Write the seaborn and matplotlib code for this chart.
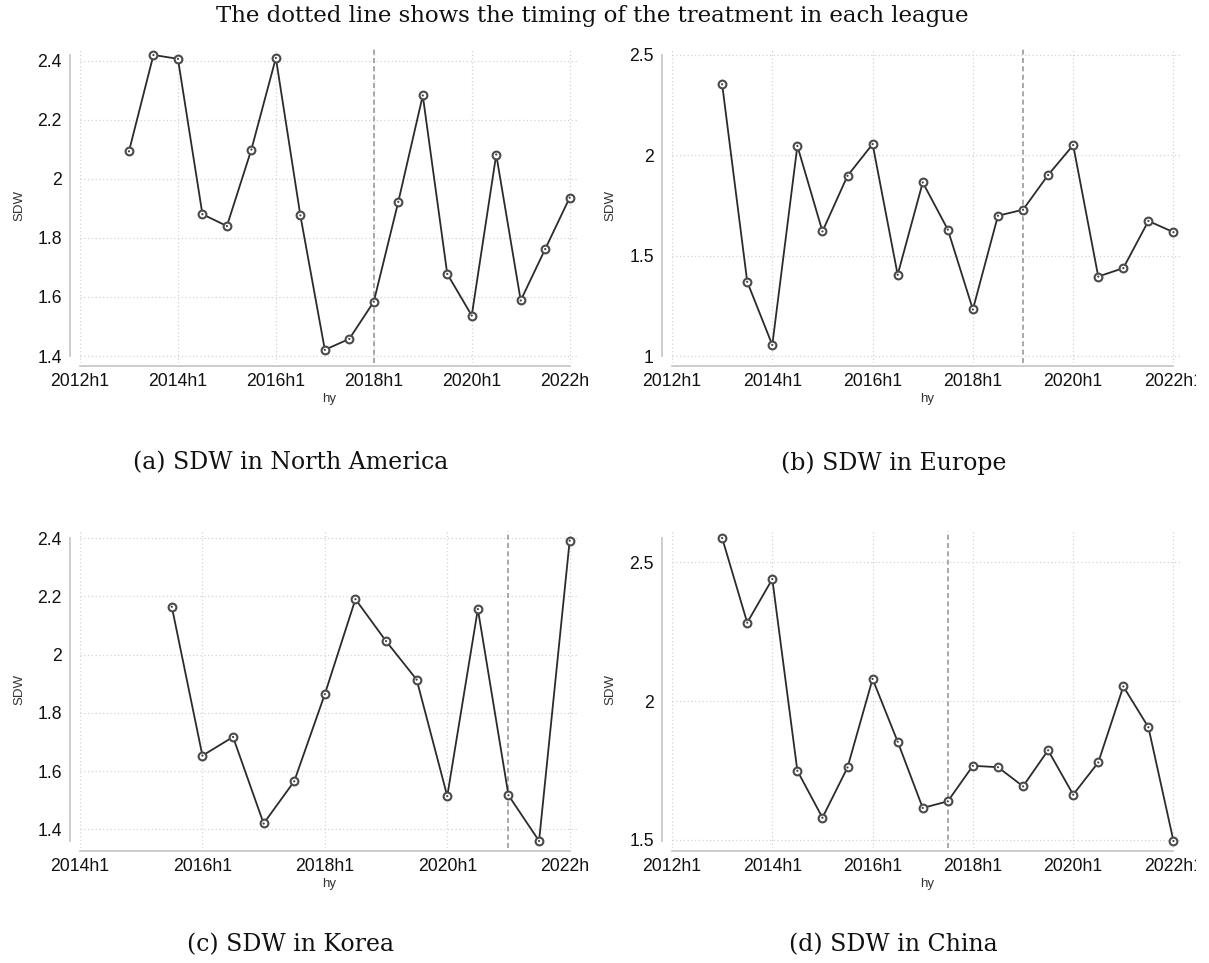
import matplotlib
matplotlib.use("Agg")
import matplotlib.pyplot as plt
from matplotlib.transforms import Bbox, TransformedBbox
import pandas as pd
import seaborn as sns

# half-year labels and SDW values
hy_long = ["2013h1", "2013h2", "2014h1", "2014h2", "2015h1", "2015h2", "2016h1",
           "2016h2", "2017h1", "2017h2", "2018h1", "2018h2", "2019h1", "2019h2",
           "2020h1", "2020h2", "2021h1", "2021h2", "2022h1"]
hy_korea = hy_long[5:]

sdw_na = [2.093, 2.419, 2.406, 1.880, 1.840, 2.099, 2.409, 1.876, 1.421, 1.458,
          1.584, 1.922, 2.282, 1.678, 1.537, 2.082, 1.588, 1.762, 1.936]
sdw_eu = [2.354, 1.370, 1.055, 2.047, 1.621, 1.898, 2.056, 1.405, 1.865, 1.630,
          1.232, 1.699, 1.729, 1.902, 2.051, 1.396, 1.438, 1.673, 1.617]
sdw_kr = [2.164, 1.653, 1.717, 1.420, 1.565, 1.864, 2.190, 2.046, 1.914, 1.514,
          2.156, 1.517, 1.360, 2.391]
sdw_cn = [2.588, 2.283, 2.440, 1.749, 1.580, 1.761, 2.080, 1.854, 1.615, 1.639,
          1.767, 1.762, 1.693, 1.823, 1.663, 1.779, 2.053, 1.906, 1.496]

treat_na, treat_eu, treat_kr, treat_cn = "2018h1", "2019h1", "2021h1", "2017h2"

xticks_long = ["2012h1", "2014h1", "2016h1", "2018h1", "2020h1", "2022h1"]
xticks_korea = ["2014h1", "2016h1", "2018h1", "2020h1", "2022h1"]
yticks_a = [1.4, 1.6, 1.8, 2.0, 2.2, 2.4]
yticks_b = [1.0, 1.5, 2.0, 2.5]
yticks_c = [1.4, 1.6, 1.8, 2.0, 2.2, 2.4]
yticks_d = [1.5, 2.0, 2.5]

captions = ["(a) SDW in North America", "(b) SDW in Europe",
            "(c) SDW in Korea", "(d) SDW in China"]


def hy_num(s):
    return int(s[:4]) + (0.5 if s.endswith("2") else 0.0)


def fmt(v):
    return f"{v:g}"


sns.set_style("white")
plt.rcParams["font.family"] = ["Liberation Sans", "DejaVu Sans"]

W, H = 1209, 963
fig = plt.figure(figsize=(W / 100, H / 100), dpi=100)

panels = [
    (hy_long, sdw_na, treat_na, xticks_long, yticks_a, (80, 48, 578, 363)),
    (hy_long, sdw_eu, treat_eu, xticks_long, yticks_b, (672, 48, 1182, 363)),
    (hy_korea, sdw_kr, treat_kr, xticks_korea, yticks_c, (80, 531, 578, 848)),
    (hy_long, sdw_cn, treat_cn, xticks_long, yticks_d, (672, 531, 1182, 848)),
]

for i, (hy, sdw, treat, xt, yt, box) in enumerate(panels):
    l, t, r, b = box
    ax = fig.add_axes([l / W, 1 - b / H, (r - l) / W, (b - t) / H])
    df = pd.DataFrame({"hy": [hy_num(h) for h in hy], "SDW": sdw})

    ax.grid(True, linestyle=(0, (1, 2)), color="#d4d4d4", linewidth=0.9)
    ax.set_axisbelow(True)
    sns.lineplot(data=df, x="hy", y="SDW", ax=ax, color="#2b2b2b", linewidth=1.3,
                 marker="o", markersize=5.6, markerfacecolor="white",
                 markeredgecolor="#4a4a4a", markeredgewidth=1.5, zorder=3)
    # small centre dot of the hollow Stata marker
    sns.scatterplot(data=df, x="hy", y="SDW", ax=ax, s=2.5, color="#444444",
                    edgecolor="none", zorder=4)
    ax.axvline(hy_num(treat), color="#9a9a9a", linestyle=(0, (3, 2)),
               linewidth=1.2, zorder=2)

    xnum = [hy_num(x) for x in xt]
    ax.set_xticks(xnum)
    ax.set_xticklabels(xt)
    ax.set_xlim(xnum[0], xnum[-1] + 0.017 * (xnum[-1] - xnum[0]))
    lo, hi = min(min(yt), min(sdw)), max(max(yt), max(sdw))
    pad = (hi - lo) * 7 / 302
    ax.set_ylim(lo - pad, hi + pad)
    ax.set_yticks(yt)
    ax.set_yticklabels([fmt(v) for v in yt])

    for side in ["top", "right"]:
        ax.spines[side].set_visible(False)
    ax.spines["left"].set_position(("outward", 7))
    ax.spines["bottom"].set_position(("outward", 2))
    ax.spines["left"].set_bounds(lo, hi)
    ax.spines["bottom"].set_bounds(xnum[0], xnum[-1])
    for side in ["left", "bottom"]:
        ax.spines[side].set_color("#c8c8c8")
        ax.spines[side].set_linewidth(1.3)

    ax.tick_params(axis="both", direction="out", length=3.5, width=1,
                   color="#b0b0b0", labelsize=12.7, labelcolor="#111111")
    ax.tick_params(axis="y", pad=2.5)
    ax.tick_params(axis="x", pad=2)
    ax.set_xlabel("hy", fontsize=9.5, color="#333333", labelpad=2)
    ax.set_ylabel("SDW", fontsize=9.5, color="#333333", labelpad=9)

    # the last tick label is cut off by the subfigure edge in the reference
    clip_x = 590 if l < 600 else 1196
    clip = TransformedBbox(Bbox([[0, 0], [clip_x / W, 1]]), fig.transFigure)
    lab = ax.xaxis.get_major_ticks()[-1].label1
    lab.set_clip_on(True)
    lab.set_clip_box(clip)

    cy = 463 if t < 400 else 945
    fig.text(0.24 if l < 600 else 0.739, 1 - cy / H, captions[i],
             ha="center", va="center", family="DejaVu Serif", fontsize=17,
             color="#111111")

fig.text(0.49, 1 - 16 / H, "The dotted line shows the timing of the treatment in each league",
         ha="center", va="center", family="DejaVu Serif", fontsize=16.5,
         color="#111111")

fig.savefig("out.png", dpi=100)
